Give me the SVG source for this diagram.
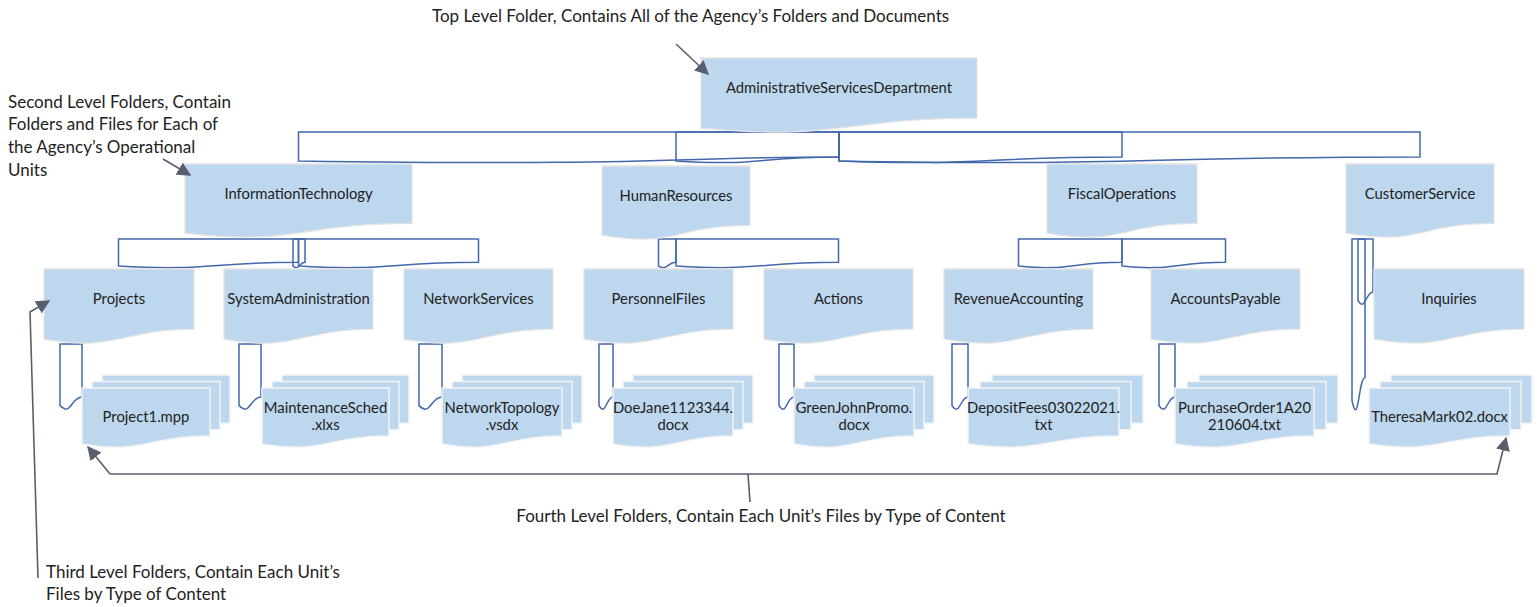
<svg xmlns="http://www.w3.org/2000/svg" width="1538" height="607" viewBox="0 0 1538 607">
<style>
text{font-family:Lato,"Liberation Sans",sans-serif;font-size:14.8px;fill:#222;}
.n{text-anchor:middle;}
.lab{font-size:17px;}
.node{fill:#BDD7EE;stroke:#e4e4e4;stroke-width:1.3;}
.card{fill:#BDD7EE;stroke:#f4f4f4;stroke-width:1.5;}
.con{fill:none;stroke:#4267AC;stroke-width:1.5;}
.arr{fill:none;stroke:#595E6E;stroke-width:1.6;}
</style>
<defs>
<marker id="ahb" viewBox="0 0 10 10" refX="9" refY="5" markerWidth="14" markerHeight="14" markerUnits="userSpaceOnUse" orient="auto"><path d="M0,0 L10,5 L0,10 Z" fill="#595E6E"/></marker>
</defs>

<g id="connectors">
<path class="con" d="M298.5,132 H839 V156.9 C668.75,156.9 668.75,166.3 298.5,161 Z"/>
<path class="con" d="M839,132 H1420 V156.9 C1129.5,156.9 1129.5,166.3 839,161 Z"/>
<path class="con" d="M676,132 H839 V156.9 C757.5,156.9 757.5,166.3 676,161 Z"/>
<path class="con" d="M839,132 H1122 V156.9 C980.5,156.9 980.5,166.3 839,161 Z"/>
<path class="con" d="M118.5,239 H298.5 V262.3 C208.5,262.3 208.5,271.1 118.5,266.1 Z"/>
<path class="con" d="M298.5,239 H478.5 V262.3 C388.5,262.3 388.5,271.1 298.5,266.1 Z"/>
<path class="con" d="M293,239 H305 V262.3 C299,262.3 299,271.1 293,266.1 Z"/>
<path class="con" d="M658.5,239 H676 V262.3 C667.25,262.3 667.25,271.1 658.5,266.1 Z"/>
<path class="con" d="M676,239 H838.5 V262.3 C757.25,262.3 757.25,271.1 676,266.1 Z"/>
<path class="con" d="M1018.5,239 H1122 V262.3 C1070.25,262.3 1070.25,271.1 1018.5,266.1 Z"/>
<path class="con" d="M1122,239 H1225.5 V262.3 C1173.75,262.3 1173.75,271.1 1122,266.1 Z"/>
<path class="con" d="M1352,239 H1365 V377.7 C1358.5,377.7 1358.5,430.6 1352,400.6 Z"/>
<path class="con" d="M1358,239 H1373 V291.9 C1365.5,291.9 1365.5,312.1 1358,300.6 Z"/>
<path class="con" d="M60,344 H82 V396.9 C71,396.9 71,417.1 60,405.6 Z"/>
<path class="con" d="M239,344 H261 V396.9 C250,396.9 250,417.1 239,405.6 Z"/>
<path class="con" d="M419,344 H442 V396.9 C430.5,396.9 430.5,417.1 419,405.6 Z"/>
<path class="con" d="M599,344 H613 V396.9 C606,396.9 606,417.1 599,405.6 Z"/>
<path class="con" d="M779,344 H794 V396.9 C786.5,396.9 786.5,417.1 779,405.6 Z"/>
<path class="con" d="M952,344 H968 V396.9 C960,396.9 960,417.1 952,405.6 Z"/>
<path class="con" d="M1159,344 H1175 V396.9 C1167,396.9 1167,417.1 1159,405.6 Z"/>
</g>

<g id="node-asd">
<path class="node" d="M701,58 H977 V118.2 C839,118.2 839,141.1 701,128.1 Z"/>
<text class="n" x="839" y="93">AdministrativeServicesDepartment</text>
</g>

<g id="node-it">
<path class="node" d="M185,164 H412 V223.3 C298.5,223.3 298.5,246 185,233.1 Z"/>
<text class="n" x="298.5" y="199">InformationTechnology</text>
</g>
<g id="node-hr">
<path class="node" d="M602,166 H750 V225.3 C676,225.3 676,248 602,235.1 Z"/>
<text class="n" x="676" y="201">HumanResources</text>
</g>
<g id="node-fo">
<path class="node" d="M1047,164 H1197 V223.3 C1122,223.3 1122,246 1047,233.1 Z"/>
<text class="n" x="1122" y="199">FiscalOperations</text>
</g>
<g id="node-cs">
<path class="node" d="M1346,164 H1494 V223.3 C1420,223.3 1420,246 1346,233.1 Z"/>
<text class="n" x="1420" y="199">CustomerService</text>
</g>

<g id="node-projects">
<path class="node" d="M44,269 H194 V329.2 C119,329.2 119,352.1 44,339.1 Z"/>
<text class="n" x="119" y="304">Projects</text>
</g>
<g id="node-sysadmin">
<path class="node" d="M224,269 H373 V329.2 C298.5,329.2 298.5,352.1 224,339.1 Z"/>
<text class="n" x="298.5" y="304">SystemAdministration</text>
</g>
<g id="node-netserv">
<path class="node" d="M404,269 H553 V329.2 C478.5,329.2 478.5,352.1 404,339.1 Z"/>
<text class="n" x="478.5" y="304">NetworkServices</text>
</g>
<g id="node-personnel">
<path class="node" d="M584,269 H733 V329.2 C658.5,329.2 658.5,352.1 584,339.1 Z"/>
<text class="n" x="658.5" y="304">PersonnelFiles</text>
</g>
<g id="node-actions">
<path class="node" d="M764,269 H913 V329.2 C838.5,329.2 838.5,352.1 764,339.1 Z"/>
<text class="n" x="838.5" y="304">Actions</text>
</g>
<g id="node-revenue">
<path class="node" d="M944,269 H1093 V329.2 C1018.5,329.2 1018.5,352.1 944,339.1 Z"/>
<text class="n" x="1018.5" y="304">RevenueAccounting</text>
</g>
<g id="node-payable">
<path class="node" d="M1151,269 H1300 V329.2 C1225.5,329.2 1225.5,352.1 1151,339.1 Z"/>
<text class="n" x="1225.5" y="304">AccountsPayable</text>
</g>
<g id="node-inquiries">
<path class="node" d="M1374,269 H1524 V329.2 C1449,329.2 1449,352.1 1374,339.1 Z"/>
<text class="n" x="1449" y="304">Inquiries</text>
</g>

<g id="files-project1">
<path class="card" d="M102,375 H230 V423.1 C166,423.1 166,441.5 102,431 Z"/>
<path class="card" d="M92,381.5 H220 V429.6 C156,429.6 156,448 92,437.5 Z"/>
<path class="card" d="M82,388 H210 V436.1 C146,436.1 146,454.5 82,444 Z"/>
<text class="n" x="146" y="421.5">Project1.mpp</text>
</g>
<g id="files-maint">
<path class="card" d="M282,375 H409 V423.1 C345.5,423.1 345.5,441.5 282,431 Z"/>
<path class="card" d="M272,381.5 H399 V429.6 C335.5,429.6 335.5,448 272,437.5 Z"/>
<path class="card" d="M262,388 H389 V436.1 C325.5,436.1 325.5,454.5 262,444 Z"/>
<text class="n" x="325.5" y="413">MaintenanceSched</text>
<text class="n" x="325.5" y="430">.xlxs</text>
</g>
<g id="files-nettopo">
<path class="card" d="M462,375 H582 V423.1 C522,423.1 522,441.5 462,431 Z"/>
<path class="card" d="M452,381.5 H572 V429.6 C512,429.6 512,448 452,437.5 Z"/>
<path class="card" d="M442,388 H562 V436.1 C502,436.1 502,454.5 442,444 Z"/>
<text class="n" x="502" y="413">NetworkTopology</text>
<text class="n" x="502" y="430">.vsdx</text>
</g>
<g id="files-doejane">
<path class="card" d="M633,375 H753 V423.1 C693,423.1 693,441.5 633,431 Z"/>
<path class="card" d="M623,381.5 H743 V429.6 C683,429.6 683,448 623,437.5 Z"/>
<path class="card" d="M613,388 H733 V436.1 C673,436.1 673,454.5 613,444 Z"/>
<text class="n" x="673" y="413">DoeJane1123344.</text>
<text class="n" x="673" y="430">docx</text>
</g>
<g id="files-greenjohn">
<path class="card" d="M814,375 H934 V423.1 C874,423.1 874,441.5 814,431 Z"/>
<path class="card" d="M804,381.5 H924 V429.6 C864,429.6 864,448 804,437.5 Z"/>
<path class="card" d="M794,388 H914 V436.1 C854,436.1 854,454.5 794,444 Z"/>
<text class="n" x="854" y="413">GreenJohnPromo.</text>
<text class="n" x="854" y="430">docx</text>
</g>
<g id="files-deposit">
<path class="card" d="M992,375 H1143 V423.1 C1067.5,423.1 1067.5,441.5 992,431 Z"/>
<path class="card" d="M980,381.5 H1131 V429.6 C1055.5,429.6 1055.5,448 980,437.5 Z"/>
<path class="card" d="M968,388 H1119 V436.1 C1043.5,436.1 1043.5,454.5 968,444 Z"/>
<text class="n" x="1043.5" y="413">DepositFees03022021.</text>
<text class="n" x="1043.5" y="430">txt</text>
</g>
<g id="files-purchase">
<path class="card" d="M1199,375 H1338 V423.1 C1268.5,423.1 1268.5,441.5 1199,431 Z"/>
<path class="card" d="M1187,381.5 H1326 V429.6 C1256.5,429.6 1256.5,448 1187,437.5 Z"/>
<path class="card" d="M1175,388 H1314 V436.1 C1244.5,436.1 1244.5,454.5 1175,444 Z"/>
<text class="n" x="1244.5" y="413">PurchaseOrder1A20</text>
<text class="n" x="1244.5" y="430">210604.txt</text>
</g>
<g id="files-theresa">
<path class="card" d="M1391,375 H1532 V423.1 C1461.5,423.1 1461.5,441.5 1391,431 Z"/>
<path class="card" d="M1380,381.5 H1521 V429.6 C1450.5,429.6 1450.5,448 1380,437.5 Z"/>
<path class="card" d="M1369,388 H1510 V436.1 C1439.5,436.1 1439.5,454.5 1369,444 Z"/>
<text class="n" x="1439.5" y="421.5">TheresaMark02.docx</text>
</g>

<g id="annotations">
<text class="lab" x="432" y="22">Top Level Folder, Contains All of the Agency’s Folders and Documents</text>
<path class="arr" d="M676,44 L708,74" marker-end="url(#ahb)"/>
<text class="lab" x="8" y="108">Second Level Folders, Contain</text>
<text class="lab" x="8" y="130">Folders and Files for Each of</text>
<text class="lab" x="8" y="153">the Agency’s Operational</text>
<text class="lab" x="8" y="176">Units</text>
<path class="arr" d="M163,159 L190,175" marker-end="url(#ahb)"/>
<text class="lab" x="46" y="578">Third Level Folders, Contain Each Unit’s</text>
<text class="lab" x="46" y="600">Files by Type of Content</text>
<path class="arr" d="M38,578 L30,312 L49,301" marker-end="url(#ahb)"/>
<path class="arr" d="M110,474 L88,447" marker-end="url(#ahb)"/>
<path class="arr" d="M110,474 H1497 L1506,438" marker-end="url(#ahb)"/>
<path class="arr" d="M748,474 L750,502"/>
<text class="lab n" x="761" y="522">Fourth Level Folders, Contain Each Unit’s Files by Type of Content</text>
</g>
</svg>
